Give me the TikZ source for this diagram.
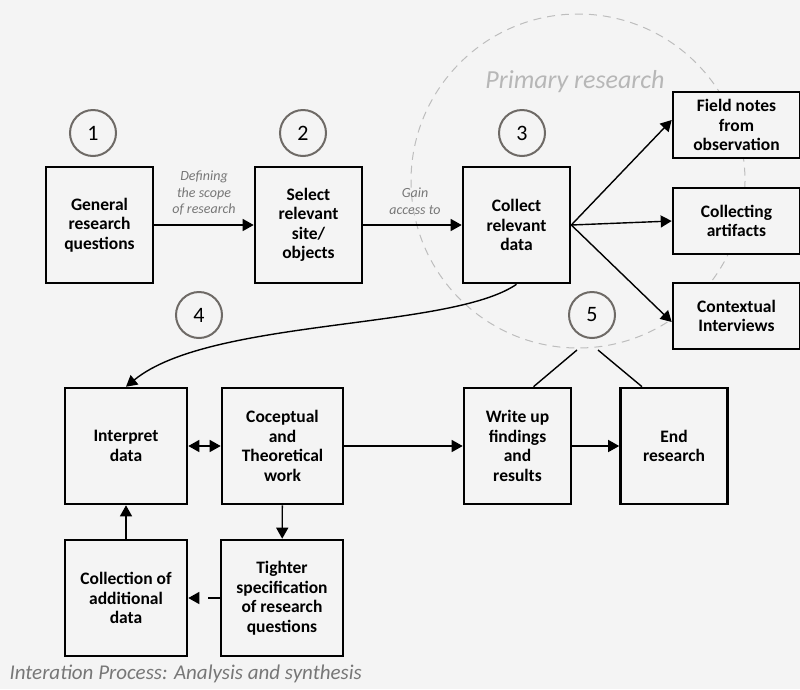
\documentclass[tikz,border=0pt]{standalone}
\usepackage{fontspec}
\setmainfont{Carlito}
\usetikzlibrary{arrows.meta}
\definecolor{bggray}{HTML}{F4F4F4}
\definecolor{ringgray}{HTML}{6E6A66}
\definecolor{notegray}{HTML}{777777}
\definecolor{dashgray}{HTML}{BDBDBD}
\tikzset{
	box/.style={draw,fill=bggray,line width=2.6pt,minimum width=107pt,minimum height=116pt,align=center,inner sep=2pt,font=\bfseries\fontsize{17.5}{19.5}\selectfont},
	smallbox/.style={box,minimum width=127pt,minimum height=66pt},
	num/.style={circle,draw=ringgray,line width=2pt,minimum size=46pt,inner sep=0pt,font=\fontsize{22}{24}\selectfont},
	note/.style={align=center,text=notegray,font=\itshape\fontsize{14}{16.5}\selectfont},
	arr/.style={-{Triangle[length=11pt,width=12pt]},line width=1.4pt}
}
\begin{document}
\begin{tikzpicture}[x=1pt,y=-1pt]
	\fill[bggray] (0,0) rectangle (800,689);
	\useasboundingbox (0,0) rectangle (800,689);
	\draw[dashgray,line width=1pt,dash pattern=on 8pt off 6pt] (578,181) circle[radius=167];
	\node[text=dashgray!97!black,font=\itshape\fontsize{26}{28}\selectfont] (primary) at (575,82) {Primary research};
	% top row
	\node[box] (general) at (99.5,225) {General\\research\\questions};
	\node[box] (select) at (308.5,225) {Select\\relevant\\site/\\objects};
	\node[box] (collect) at (516.5,225) {Collect\\relevant\\data};
	\node[smallbox] (field) at (736.5,125) {Field notes\\from\\observation};
	\node[smallbox] (artifacts) at (736.5,221) {Collecting\\artifacts};
	\node[smallbox] (interviews) at (736.5,316) {Contextual\\Interviews};
	\node[num] (n1) at (93,133) {1};
	\node[num] (n2) at (303,133) {2};
	\node[num] (n3) at (522,133) {3};
	\node[num] (n4) at (199,315) {4};
	\node[num] (n5) at (592,315) {5};
	% bottom rows
	\node[box,minimum width=122pt] (interpret) at (126,446) {Interpret\\data};
	\node[box,minimum width=121pt] (concept) at (282.5,446) {Coceptual\\and\\Theoretical\\work};
	\node[box] (writeup) at (517.5,446) {Write up\\findings\\and\\results};
	\node[box] (endres) at (674,446) {End\\research};
	\node[box,minimum width=122pt] (addcollect) at (126,598) {Collection of\\additional\\data};
	\node[box,minimum width=122pt] (tighter) at (282,598) {Tighter\\specification\\of research\\questions};
	\node[note] (scope) at (204,193) {Defining\\the scope\\of research};
	\node[note] (access) at (415,201) {Gain\\access to};
	\node[anchor=west,text=notegray,font=\itshape\fontsize{21}{24}\selectfont] (caption) at (6,674) {Interation Process: Analysis and synthesis};
	\coordinate (c5a) at (577,350);
	\coordinate (c5b) at (598,350);
	% connectors
	\draw[arr] (general) -- (select);
	\draw[arr] (select) -- (collect);
	\draw[arr] (collect.east) -- ([yshift=5pt]field.west);
	\draw[arr] (collect.east) -- (artifacts.west);
	\draw[arr] (collect.east) -- ([yshift=-6pt]interviews.west);
	\draw[arr] (collect.south) .. controls (450,330) and (210,318) .. (interpret.north);
	\draw[{Triangle[length=11pt,width=12pt]}-{Triangle[length=11pt,width=12pt]},line width=1.4pt] (interpret) -- (concept);
	\draw[arr] (concept) -- (writeup);
	\draw[arr] (writeup) -- (endres);
	\draw[arr] (concept) -- (tighter);
	\draw[arr] (addcollect) -- (interpret);
	\draw[arr,dash pattern=on 12pt off 40pt] (tighter) -- (addcollect);
	\draw[line width=1.4pt] (c5a) -- ([xshift=16pt]writeup.north);
	\draw[line width=1.4pt] (c5b) -- ([xshift=-32pt]endres.north);
\end{tikzpicture}
\end{document}
